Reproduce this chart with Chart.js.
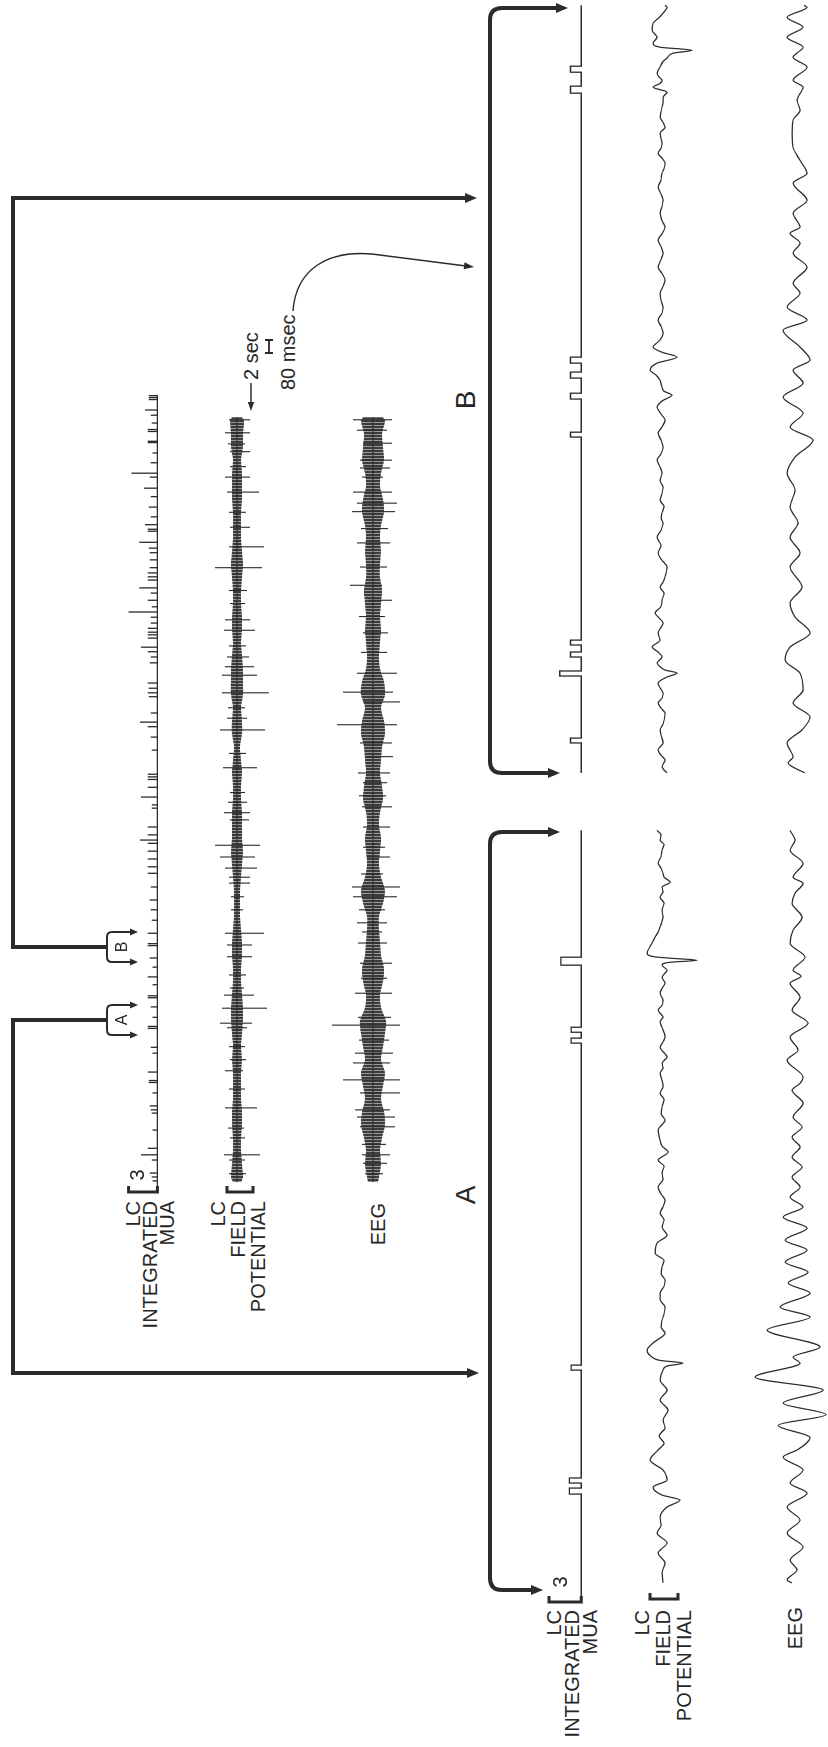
<!DOCTYPE html>
<html>
<head>
<meta charset="utf-8">
<script src="https://cdn.jsdelivr.net/npm/chart.js@4.4.0/dist/chart.umd.min.js"></script>
<style>
  html, body { margin: 0; padding: 0; background: #fff; overflow: hidden; width: 828px; height: 1747px; }
  /* the figure is laid out landscape and turned a quarter to fit the page */
  #fig { position: absolute; left: 0; top: 0; width: 1747px; height: 828px;
         transform-origin: 0 0; transform: translateY(1747px) rotate(-90deg);
         font-family: "Liberation Sans", Arial, sans-serif; color: #262626; }
  #fig canvas, #fig svg, .lbl { position: absolute; }
  .lbl { white-space: nowrap; }
</style>
</head>
<body>
<div id="fig"></div>
<script>
// ---------- overview record (time in s) ----------
const overviewMax = 122;
const segA = [23.8, 28.4];
const segB = [35.0, 39.6];

const muaTickT = [1.4,2.0,2.6,4.6,5.4,6.4,9.2,11.8,12.3,12.9, 14.9,16.5,16.8,18.1,21.0,21.9,24.8,25.1,26.5,28.1,
  29.5,29.8,31.5,32.7,34.2,35.6,37.5,37.8,39.4,41.4, 43.0,44.5,46.5,48.6,49.6,50.8,52.0,53.2,53.7,54.5,
  55.7,58.6,59.1,60.3,61.8,63.0,63.4,63.8,67.5,69.5, 71.1,71.8,73.2,75.7,76.3,77.0,77.8,80.9,81.8,82.6,
  83.3,84.7,85.2,85.6,86.2,87.0,87.9,88.7,89.5,90.5, 91.6,92.4,93.6,94.1,94.7,95.5,96.7,97.8,98.5,99.4,
  101.1,101.4,102.1,103.3,104.8,106.4,107.7,109.4,110.0,111.6, 113.1,114.7,114.9,116.4,116.7,117.7,118.9,119.7,121.3,121.6,
  121.9];
const muaTickH = [0.5,0.6,0.8,0.6,1.7,1.0,0.5,0.6,0.7,0.8, 0.5,0.9,0.9,1.0,0.5,0.7,1.0,1.0,0.5,0.7,
  1.0,1.0,0.5,1.0,0.5,0.8,1.0,1.0,1.0,0.6, 0.7,0.8,0.7,1.0,1.0,1.0,1.0,1.0,1.8,1.0,
  1.0,0.6,0.6,1.7,1.0,1.0,1.0,1.0,0.6,0.7, 1.0,1.8,0.7,0.9,1.0,0.9,1.0,0.8,0.7,1.0,
  1.7,1.0,1.0,1.0,1.0,0.7,0.7,3.0,0.6,1.0, 0.7,1.9,1.0,1.0,1.0,0.8,0.8,0.8,0.9,1.9,
  1.0,1.0,1.3,0.7,0.9,0.7,1.4,0.8,2.7,0.7, 0.5,1.0,1.0,1.0,1.0,0.6,0.7,1.3,0.9,0.9,
  0.9];

const envT = [1.2,2,4,6,8,10,12,14,16,18,20,22,24,26,28,30,32,34,36,38,40,42,44,46,48,50,52,54,56,58,60,
  62,64,66,68,70,72,74,76,78,80,82,84,86,88,90,92,94,96,98,100,102,104,106,108,110,112,114,116,118,118.6];
const fieldEnv = [4, 6,5,4,4,5,5,4,4,4,5, 4,5,6,6,5,4,4,5,5,4, 3,3,3,4,5,6,5,5,5,4,
  4,5,4,3,5,5,4,6,6,6, 5,4,5,5,4,4,5,6,5,4, 4,4,5,5,5,4,6,6,7, 5];
const eegEnv = [5, 6,8,7,9,12,11,8,10,12,8, 10,12,13,8,7,10,11,8,7,6, 6,10,12,8,6,7,8,6,7,10,
  9,7,8,9,12,11,8,12,11,7, 6,7,8,7,8,9,7,7,8,7, 8,11,10,7,8,11,10,9,12, 10];

const fieldSpikeT = [2.5,4.6,5.4,8.0,9.5,12.6,15.5,18.3,20.0,22.0, 24.9,25.6,27.9,29.9,31.0,33.0,35.8,37.6,39.4,43.0,
  45.0,47.1,48.0,49.4,51.1,52.9,56.8,57.9,59.5,61.0, 64.8,67.0,70.6,72.4,74.0,76.3,79.0,80.3,81.8,83.5,
  85.9,87.5,90.0,92.0,95.5,98.7,101.7,104.0,107.1,109.4, 111.0,113.3,114.5,116.2,118.2];
const fieldSpikeHi = [8,8,13,7,9,12,8,12,7,8, 10,17,15,13,7,8,10,10,12,6, 6,8,8,12,17,22,7,13,9,7,
  14,8,17,10,9,15,15,12,10,8, 13,12,7,8,22,8,7,8,10,12, 7,7,9,12,8];
const fieldSpikeLo = [-9,-8,-23,-8,-7,-20,-8,-6,-9,-8, -10,-15,-30,-17,-7,-9,-15,-15,-27,-6,
  -7,-13,-13,-20,-18,-23,-12,-13,-10,-8, -20,-9,-28,-10,-8,-32,-20,-17,-12,-9,
  -18,-13,-8,-10,-25,-27,-13,-9,-22,-13, -9,-13,-8,-13,-13];

const eegSpikeT = [2.5,4.1,5.4,7.0,9.7,11.2,12.3,14.9,16.9,19.5, 21.0,23.0,25.3,26.5,30.2,32.5,34.8,37.9,39.6,41.0,
  43.0,45.0,46.5,48.5,51.1,52.6,55.7,58.8,60.5,62.5, 64.0,66.5,68.6,71.4,74.9,76.4,79.3,82.5,85.5,88.0,
  90.5,92.8,95.6,99.3,101.5,104.1,105.4,107.1,109.4,110.8, 112.0,114.6,116.6,118.2];
const eegSpikeHi = [8,10,11,11,13,16,18,13,30,20, 18,14,41,15,18,12,13,15,11,16,
  14,20,21,12,6,10,10,11,14,10, 15,6,13,36,10,30,16,12,10,14, 4,23,13,16,12,21,16,20,11,13, 13,10,16,20];
const eegSpikeLo = [-10,-14,-17,-13,-22,-22,-17,-27,-27,-17, -20,-16,-27,-18,-19,-14,-19,-14,-9,-14,
  -12,-24,-27,-10,-17,-12,-17,-19,-13,-14, -17,-20,-19,-24,-27,-20,-24,-14,-15,-12,
  -19,-9,-14,-17,-15,-22,-24,-19,-10,-17, -19,-19,-14,-19];

// ---------- expanded sweeps A and B (time in ms) ----------
const sweepMax = 4740;

const aMuaStart = [652,720,1415,3428,3495,3908];
const aMuaEnd   = [689,751,1446,3459,3526,3957];
const aMuaH     = [1.1,1.1,0.95,0.95,0.95,1.9];

const bMuaStart = [185,597,714,788,2068,2302,2431,2523,4185,4314];
const bMuaEnd   = [215,628,745,818,2098,2338,2468,2560,4228,4351];
const bMuaH     = [1,2,1,1,1,1,1,1,1,1];

const aFieldT = [105,166,228,289,351,412,460,511,572,615, 646,695,738,800,862,923,965,1010,1060,1108,
  1169,1231,1292,1354,1415,1440,1458,1475,1495,1538, 1582,1643,1680,1723,1760,1803,1850,1889,1930,1969,
  2010,2049,2090,2135,2197,2246,2295,2340,2382,2420, 2462,2500,2542,2590,2628,2670,2708,2757,2795,2831,
  2892,2954,2995,3034,3080,3120,3160,3200,3243,3275, 3305,3342,3403,3435,3465,3526,3560,3588,3631,3660,
  3692,3735,3765,3797,3834,3877,3908,3926,3938,3951, 3960,3982,4000,4043,4080,4110,4142,4175,4203,4246,
  4290,4326,4360,4388,4419,4450,4474,4505,4535,4575, 4615,4650,4677,4710,4738];
const aFieldV = [-1,0,-3,4,-5,5,1,2,-5,-18, 0,9,-5,-1,12,4,-2,3,-3,-1,
  -6,2,-5,2,-1,-5,-21,2,10,15, 9,-3,1,0,-2,-3,2,2,-2,-3,
  1,0,-2,7,5,-5,0,-2,2,-1, -3,1,4,-1,0,-2,4,-6,0,2,
  4,-3,1,0,-2,2,-1,0,2,-1, 0,-5,2,-1,-3,0,2,-1,4,0,
  -1,2,0,-3,0,-5,0,-8,-35,-8, 8,15,14,10,7,4,2,0,-1,0,
  -2,2,-1,0,-8,-2,-1,1,4,1, 0,-2,2,1,5];

const aEegT = [105,123,185,246,326,412,492,572,658,720, 800,880,923,1000,1075,1141,1212,1292,1372,1458,
  1495,1557,1662,1742,1803,1889,1951,2018,2080,2154, 2215,2289,2357,2419,2480,2542,2603,2665,2726,2788,
  2849,2911,2972,3058,3138,3180,3219,3323,3385,3465, 3551,3631,3711,3797,3840,3877,3957,4043,4123,4203,
  4289,4351,4412,4449,4535,4615,4677,4738];
const aEegV = [6,11,1,8,-5,11,-2,11,-9,8, -5,15,1,-12,20,-28,15,-25,43,-2,
  5,-22,31,-12,18,-12,10,-10,13,-9, 13,-9,15,-5,8,-2,6,-4,6,-2,
  6,-4,5,-5,6,-2,-5,11,0,8, -10,6,-2,8,-3,5,-7,8,5,-4,
  6,3,-5,5,-5,8,3,8];

const bFieldT = [0,37,80,110,142,185,235,265,300,369, 400,431,460,492,525,554,591,615,634,655,
  677,714,745,775,818,862,923,955,985,1025, 1065,1105,1145,1175,1206,1268,1310,1354,1400,1452,
  1495,1539,1570,1600,1640,1680,1720,1760,1800,1846, 1885,1926,1965,2006,2050,2092,2130,2172,2210,2252,
  2290,2326,2350,2375,2418,2450,2480,2523,2560,2590, 2622,2665,2708,2750,2788,2830,2868,2910,2954,2995,
  3034,3075,3114,3160,3200,3240,3280,3320,3360,3400, 3446,3486,3526,3565,3606,3650,3692,3720,3754,3785,
  3815,3845,3877,3905,3938,3975,4005,4037,4070,4098, 4130,4160,4191,4222,4245,4265,4285,4308,4345,4380,
  4400,4431,4449,4468,4492,4529,4572,4615,4650,4677, 4714,4726];
const bFieldV = [-5,0,-3,1,4,-1,1,2,-1,-3, 1,4,0,-1,2,4,-5,-15,-3,2,
  5,0,4,10,2,4,-1,3,7,1, 0,-2,2,-1,-3,-5,0,4,1,5,
  1,-1,1,0,-2,2,0,-1,2,0, 2,5,1,-1,1,4,0,-3,1,5,
  0,-10,-2,0,2,6,12,5,-15,0, 9,2,-1,1,4,0,-1,1,2,-1,
  -3,0,4,1,-1,1,4,0,-3,0, 2,0,-1,1,4,1,0,-2,-3,0,
  4,1,0,1,2,-3,-1,2,1,0, -1,-1,-5,9,2,0,3,5,2,-1,
  -5,-11,-30,2,9,5,10,9,3,-1, -5,-3];

const bEegT = [0,62,98,185,265,345,431,511,615,695, 775,862,960,1046,1145,1268,1354,1452,1539,1637,
  1742,1846,1945,2049,2129,2215,2314,2400,2480,2542, 2622,2726,2788,2868,2954,3015,3114,3200,3262,3323,
  3360,3446,3526,3631,3692,3772,3852,3938,4018,4080, 4142,4222,4265,4345,4406,4468,4529,4591,4652,4714,
  4726];
const bEegV = [-7,10,5,11,-4,-12,5,-5,-2,13, 8,-12,3,8,-4,8,-2,8,0,8,
  3,11,3,-15,8,-5,15,-5,5,-12, -2,15,-9,11,-2,5,-9,5,-2,8,
  -2,5,-9,5,-9,-2,5,6,5,-2, 1,-5,5,-9,5,-5,11,-5,11,-9,
  -6];

// ---------- helpers ----------
const INK = '#2b2b2b';
const fig = document.getElementById('fig');

const pts = (xs, ys) => xs.map((x, i) => ({ x, y: ys[i] }));

function tickLine(times, heights, end) {
  const d = [{ x: 0, y: 0 }];
  times.forEach((t, i) => d.push({ x: t, y: 0 }, { x: t, y: heights[i] }, { x: t, y: 0 }));
  d.push({ x: end, y: 0 });
  return d;
}

function pulseLine(starts, ends, heights, end) {
  const d = [{ x: 0, y: 0 }];
  starts.forEach((s, i) => d.push({ x: s, y: 0 }, { x: s, y: heights[i] }, { x: ends[i], y: heights[i] }, { x: ends[i], y: 0 }));
  d.push({ x: end, y: 0 });
  return d;
}

function spikeLine(times, hi, lo, from, to) {
  const d = [{ x: from, y: 0 }];
  times.forEach((t, i) => d.push({ x: t, y: 0 }, { x: t, y: hi[i] }, { x: t, y: lo[i] }, { x: t, y: 0 }));
  d.push({ x: to, y: 0 });
  return d;
}

// dense pen scribble look for the compressed traces
function scribble() {
  const c = document.createElement('canvas');
  c.width = 3; c.height = 2;
  const g = c.getContext('2d');
  g.fillStyle = '#9a9a9a'; g.fillRect(0, 0, 3, 2);
  g.fillStyle = '#3c3c3c'; g.fillRect(0, 0, 2, 2);
  return g.createPattern(c, 'repeat');
}

// one trace per small chart; zeroV is where 0 sits, ppu is pixels per unit
function traceChart(o, datasets) {
  const height = Math.round((o.above + o.below) * o.ppu);
  const top = Math.round(o.zeroV - o.above * height / (o.above + o.below));
  const c = document.createElement('canvas');
  c.width = o.width; c.height = height;
  c.style.left = o.left + 'px'; c.style.top = top + 'px';
  c.style.width = o.width + 'px'; c.style.height = height + 'px';
  fig.appendChild(c);
  const chart = new Chart(c, {
    type: 'line',
    data: { datasets },
    options: {
      responsive: false, animation: false, events: [], devicePixelRatio: 1,
      layout: { padding: 0 },
      plugins: { legend: { display: false }, tooltip: { enabled: false } },
      elements: { point: { radius: 0 } },
      scales: {
        x: { type: 'linear', min: 0, max: o.xMax, display: false },
        y: { type: 'linear', min: -o.below, max: o.above, display: false }
      }
    }
  });
  return { chart, left: o.left, top };
}

const line = (data, extra) => Object.assign({ data, borderColor: INK, borderWidth: 1.3, tension: 0, fill: false }, extra || {});
const wave = data => line(data, { cubicInterpolationMode: 'monotone', borderWidth: 1.25 });

function band(env, hi, lo, spikeT) {
  return [
    line(spikeLine(spikeT, hi, lo, envT[0], envT[envT.length - 1]), { borderWidth: 1.1 }),
    { data: pts(envT, env), borderWidth: 0, fill: '+1', backgroundColor: scribble(), tension: 0.3 },
    { data: pts(envT, env.map(v => -v)), borderWidth: 0, fill: false, tension: 0.3 }
  ];
}

// ---------- charts ----------
const OV = { left: 557, width: 795, xMax: overviewMax };
const muaOv = traceChart({ ...OV, zeroV: 157, ppu: 9.6, above: 4, below: 1 },
  [line(tickLine(muaTickT, muaTickH, overviewMax), { borderWidth: 1.3 })]);
traceChart({ ...OV, zeroV: 237, ppu: 1, above: 40, below: 40 },
  band(fieldEnv, fieldSpikeHi, fieldSpikeLo, fieldSpikeT));
traceChart({ ...OV, zeroV: 373, ppu: 1, above: 50, below: 50 },
  band(eegEnv, eegSpikeHi, eegSpikeLo, eegSpikeT));

const SA = { left: 147, width: 770, xMax: sweepMax };
const SB = { left: 974, width: 770, xMax: sweepMax };
const muaA = traceChart({ ...SA, zeroV: 581, ppu: 10.75, above: 3, below: 1 },
  [line(pulseLine(aMuaStart, aMuaEnd, aMuaH, 4738))]);
traceChart({ ...SA, zeroV: 662, ppu: 1, above: 40, below: 45 }, [wave(pts(aFieldT, aFieldV))]);
traceChart({ ...SA, zeroV: 798, ppu: 1, above: 55, below: 30 }, [wave(pts(aEegT, aEegV))]);
traceChart({ ...SB, zeroV: 581, ppu: 10.75, above: 3, below: 1 },
  [line(pulseLine(bMuaStart, bMuaEnd, bMuaH, 4726))]);
traceChart({ ...SB, zeroV: 662, ppu: 1, above: 40, below: 45 }, [wave(pts(bFieldT, bFieldV))]);
traceChart({ ...SB, zeroV: 798, ppu: 1, above: 55, below: 30 }, [wave(pts(bEegT, bEegV))]);

// ---------- connectors, brackets, scale bar ----------
const svg = [];
function path(d, w) {
  svg.push(`<path d="${d}" fill="none" stroke="${INK}" stroke-width="${w}" stroke-linejoin="miter" stroke-linecap="butt"/>`);
}
function head(x, y, dx, dy, len, half) {
  const n = Math.hypot(dx, dy), ux = dx / n, uy = dy / n;
  const bx = x - ux * len, by = y - uy * len;
  svg.push(`<polygon points="${x},${y} ${bx - uy * half},${by + ux * half} ${bx + uy * half},${by - ux * half}" fill="${INK}"/>`);
}

const ox = muaOv.chart.scales.x;
const px = t => muaOv.left + ox.getPixelForValue(t);
const boxes = [[segA, 'A', 374, 479], [segB, 'B', 1549, 477]];
boxes.forEach(([seg, name, dropU, tipV]) => {
  const u0 = px(seg[0]), u1 = px(seg[1]), um = (u0 + u1) / 2;
  path(`M${u0},131 L${u0},112 Q${u0},107 ${u0 + 5},107 L${u1 - 5},107 Q${u1},107 ${u1},112 L${u1},131`, 2);
  head(u0, 138, 0, 1, 8, 3.5);
  head(u1, 138, 0, 1, 8, 3.5);
  path(`M${um},107 L${um},13 L${dropU},13 L${dropU},${tipV - 10}`, 4);
  head(dropU, tipV, 0, 1, 12, 5);
  label(name, { u: um, v: 122, size: 16, align: 'center' });
});

// sweep brackets from the overview down to A and B
path('M157,532 L157,502 Q157,490 169,490 L903,490 Q915,490 915,502 L915,549', 4);
head(157, 543, 0, 1, 12, 5); head(915, 560, 0, 1, 12, 5);
path('M974,549 L974,502 Q974,490 986,490 L1727,490 Q1739,490 1739,502 L1739,557', 4);
head(974, 560, 0, 1, 12, 5); head(1739, 568, 0, 1, 12, 5);

// calibration brackets, sized from the MUA scales (3 units)
function calib(tr, v0, v1) {
  const u = tr.left - 2;
  path(`M${u + 6},${v0} L${u},${v0} L${u},${v1} L${u + 6},${v1}`, 3);
}
const my = muaOv.chart.scales.y, ay = muaA.chart.scales.y;
calib(muaOv, muaOv.top + my.getPixelForValue(3), muaOv.top + my.getPixelForValue(0));
calib(muaA, muaA.top + ay.getPixelForValue(3), muaA.top + ay.getPixelForValue(0));
path('M561,227 L555,227 L555,253 L561,253', 3);
path('M154,650 L148,650 L148,678 L154,678', 3);

// time bar: 2 sec on the overview, 80 msec on the sweeps
path('M1394,269 L1407,269 M1394,265 L1394,273 M1407,265 L1407,273', 1.8);
path('M1364,251 L1344,251', 1.5);
head(1336, 251, -1, 0, 9, 3.2);
path('M1436,293 C1478,296 1497,328 1493,372 L1481,466', 1.4);
head(1480, 474, -0.13, 1, 10, 3.5);

const s = document.createElementNS('http://www.w3.org/2000/svg', 'svg');
s.setAttribute('width', 1747); s.setAttribute('height', 828);
s.style.left = '0px'; s.style.top = '0px';
s.innerHTML = svg.join('');
fig.insertBefore(s, fig.firstChild);

// ---------- text ----------
function label(html, o) {
  const d = document.createElement('div');
  d.className = 'lbl';
  d.innerHTML = html;
  const size = o.size || 20, lh = o.lh || size;
  d.style.fontSize = size + 'px';
  d.style.lineHeight = lh + 'px';
  d.style.top = (o.v - lh / 2) + 'px';
  if (o.align === 'left') {
    d.style.left = o.u + 'px';
  } else if (o.align === 'center') {
    d.style.left = (o.u - 100) + 'px'; d.style.width = '200px'; d.style.textAlign = 'center';
  } else {
    d.style.left = (o.u - 300) + 'px'; d.style.width = '300px'; d.style.textAlign = 'right';
  }
  fig.appendChild(d);
}

label('LC<br>INTEGRATED<br>MUA', { u: 546, v: 133, lh: 17 });
label('LC<br>FIELD<br>POTENTIAL', { u: 546, v: 218, lh: 20 });
label('EEG', { u: 544, v: 378 });
label('3', { u: 572, v: 137, align: 'center' });

label('LC<br>INTEGRATED<br>MUA', { u: 137, v: 554, lh: 18 });
label('LC<br>FIELD<br>POTENTIAL', { u: 137, v: 642, lh: 21 });
label('EEG', { u: 140, v: 795 });
label('3', { u: 165, v: 560, align: 'center' });

label('2 sec', { u: 1367, v: 251, align: 'left' });
label('80 msec', { u: 1357, v: 288, align: 'left' });
label('A', { u: 552, v: 466, size: 28, align: 'center' });
label('B', { u: 1347, v: 466, size: 28, align: 'center' });
</script>
</body>
</html>
